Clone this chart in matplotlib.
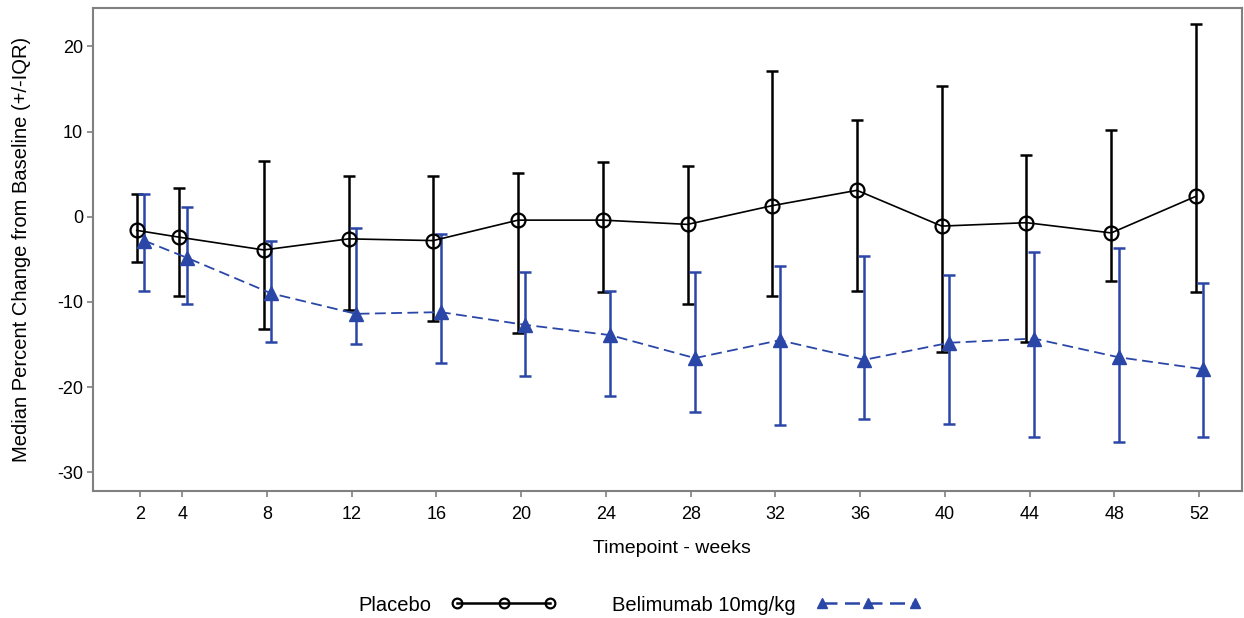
import numpy as np
import matplotlib.pyplot as plt

plt.rcParams['font.family'] = ['Liberation Sans', 'DejaVu Sans']
plt.rcParams['axes.unicode_minus'] = False

# weeks
weeks = np.array([2, 4, 8, 12, 16, 20, 24, 28, 32, 36, 40, 44, 48, 52])

# Placebo: median, lower and upper IQR
placebo_med = np.array([-1.6, -2.4, -3.9, -2.6, -2.8, -0.4, -0.4, -0.9, 1.3, 3.1, -1.1, -0.7, -1.9, 2.4])
placebo_lo = np.array([-5.3, -9.3, -13.2, -11.0, -12.3, -13.6, -8.8, -10.2, -9.3, -8.7, -15.9, -14.7, -7.5, -8.8])
placebo_hi = np.array([2.7, 3.4, 6.5, 4.8, 4.8, 5.1, 6.4, 6.0, 17.1, 11.4, 15.4, 7.3, 10.2, 22.6])

# Belimumab 10mg/kg
beli_med = np.array([-2.8, -4.8, -9.0, -11.4, -11.2, -12.7, -13.9, -16.6, -14.5, -16.8, -14.8, -14.3, -16.5, -17.9])
beli_lo = np.array([-8.7, -10.3, -14.7, -15.0, -17.2, -18.7, -21.0, -22.9, -24.4, -23.7, -24.3, -25.9, -26.4, -25.9])
beli_hi = np.array([2.7, 1.1, -2.8, -1.3, -2.0, -6.5, -8.7, -6.5, -5.8, -4.6, -6.9, -4.2, -3.7, -7.8])

blue = '#2a47a8'

fig = plt.figure(figsize=(12.44, 6.18), dpi=100)
ax = fig.add_axes([0.075, 0.2055, 0.923, 0.7815])

# Placebo
ax.errorbar(weeks - 0.15, placebo_med,
            yerr=[placebo_med - placebo_lo, placebo_hi - placebo_med],
            fmt='none', ecolor='black', elinewidth=1.8, capsize=4.5, capthick=1.8, zorder=2)
ax.plot(weeks - 0.15, placebo_med, color='black', lw=1.2, marker='o', ms=10,
        mfc='none', mec='black', mew=1.6, label='Placebo', zorder=3)

# Belimumab
ax.errorbar(weeks + 0.2, beli_med,
            yerr=[beli_med - beli_lo, beli_hi - beli_med],
            fmt='none', ecolor=blue, elinewidth=1.8, capsize=4.5, capthick=1.8, zorder=2)
ax.plot(weeks + 0.2, beli_med, color=blue, lw=1.3, ls=(0, (6, 3)), marker='^', ms=10,
        mfc=blue, mec=blue, label='Belimumab 10mg/kg', zorder=3)

ax.set_xlim(-0.2, 54.0)
ax.set_ylim(-32.2, 24.5)
ax.set_xticks(weeks)
ax.set_yticks([20, 10, 0, -10, -20, -30])
ax.tick_params(labelsize=13, color='#808080', length=4, width=1.2)
ax.tick_params(axis='x', pad=7)
for s in ax.spines.values():
    s.set_color('#808080')
    s.set_linewidth(1.5)

ax.set_xlabel('Timepoint - weeks', fontsize=14)
ax.xaxis.set_label_coords(0.504, -0.101)
ax.set_ylabel('Median Percent Change from Baseline (+/-IQR)', fontsize=14.5)
ax.yaxis.set_label_coords(-0.054, 0.5)

leg = fig.legend(loc='center', bbox_to_anchor=(0.514, 0.021), ncol=2, frameon=False,
                 markerfirst=False, numpoints=3, handlelength=5.2, handletextpad=1.0,
                 fontsize=14.5, columnspacing=2.8, markerscale=0.7)
for h in leg.get_lines():
    h.set_linewidth(1.8)

fig.savefig('out.png', dpi=100)
